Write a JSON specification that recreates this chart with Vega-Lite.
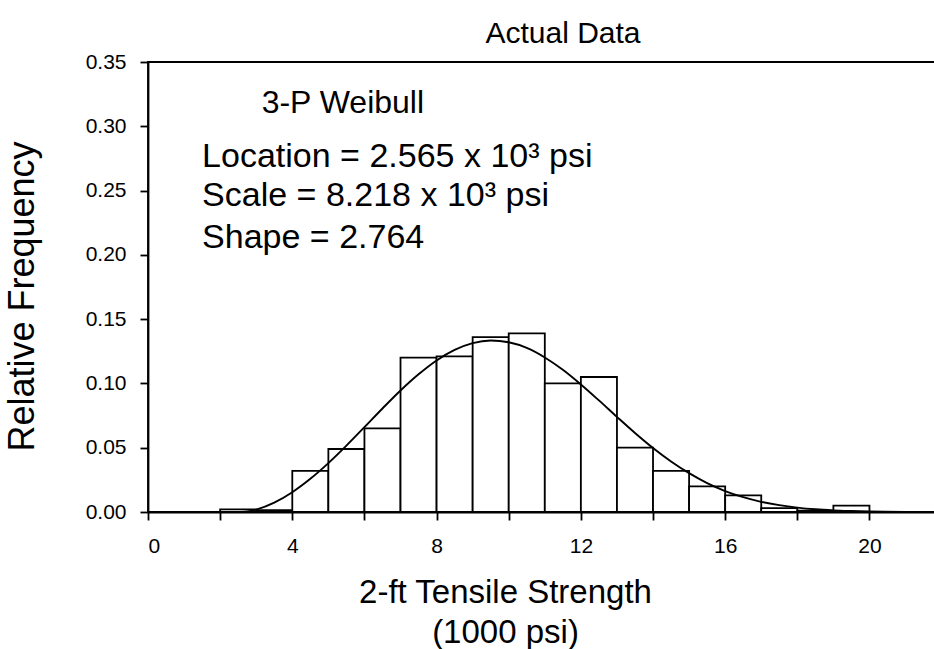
{
  "$schema": "https://vega.github.io/schema/vega-lite/v6.json",
  "width": 790,
  "height": 450,
  "autosize": "none",
  "padding": {"left": 148, "top": 62, "right": 0, "bottom": 137},
  "background": "white",
  "config": {
    "font": "Liberation Sans",
    "view": {"stroke": "black", "strokeWidth": 1.8},
    "axis": {"domainColor": "black", "tickColor": "black", "labelColor": "black", "titleColor": "black", "grid": false, "labelFont": "Liberation Sans", "titleFont": "Liberation Sans", "titleFontWeight": "normal", "domainWidth": 1.8, "tickWidth": 1.8}
  },
  "title": {"text": "Actual Data", "fontSize": 30, "font": "Liberation Sans", "fontWeight": "normal", "color": "black", "dx": 20, "offset": 2},
  "datasets": {
    "bars": [
      {"x0": 2, "x1": 3, "freq": 0.002},
      {"x0": 3, "x1": 4, "freq": 0.0015},
      {"x0": 4, "x1": 5, "freq": 0.032},
      {"x0": 5, "x1": 6, "freq": 0.049},
      {"x0": 6, "x1": 7, "freq": 0.065},
      {"x0": 7, "x1": 8, "freq": 0.12},
      {"x0": 8, "x1": 9, "freq": 0.121},
      {"x0": 9, "x1": 10, "freq": 0.136},
      {"x0": 10, "x1": 11, "freq": 0.139},
      {"x0": 11, "x1": 12, "freq": 0.1},
      {"x0": 12, "x1": 13, "freq": 0.105},
      {"x0": 13, "x1": 14, "freq": 0.05},
      {"x0": 14, "x1": 15, "freq": 0.032},
      {"x0": 15, "x1": 16, "freq": 0.02},
      {"x0": 16, "x1": 17, "freq": 0.013},
      {"x0": 17, "x1": 18, "freq": 0.003},
      {"x0": 18, "x1": 19, "freq": 0.001},
      {"x0": 19, "x1": 20, "freq": 0.005}
    ],
    "curve": [
      {"x": 2.565, "f": 0},
      {"x": 2.8, "f": 0.0006},
      {"x": 3, "f": 0.0019},
      {"x": 3.5, "f": 0.0073},
      {"x": 4, "f": 0.0154},
      {"x": 4.5, "f": 0.0258},
      {"x": 5, "f": 0.038},
      {"x": 5.5, "f": 0.0516},
      {"x": 6, "f": 0.066},
      {"x": 6.5, "f": 0.0805},
      {"x": 7, "f": 0.0945},
      {"x": 7.5, "f": 0.1071},
      {"x": 8, "f": 0.1179},
      {"x": 8.5, "f": 0.1261},
      {"x": 9, "f": 0.1314},
      {"x": 9.5, "f": 0.1334},
      {"x": 10, "f": 0.132},
      {"x": 10.5, "f": 0.1276},
      {"x": 11, "f": 0.1202},
      {"x": 11.5, "f": 0.1106},
      {"x": 12, "f": 0.0992},
      {"x": 12.5, "f": 0.0868},
      {"x": 13, "f": 0.074},
      {"x": 13.5, "f": 0.0615},
      {"x": 14, "f": 0.0498},
      {"x": 14.5, "f": 0.0393},
      {"x": 15, "f": 0.0302},
      {"x": 15.5, "f": 0.0225},
      {"x": 16, "f": 0.0163},
      {"x": 16.5, "f": 0.0115},
      {"x": 17, "f": 0.0079},
      {"x": 17.5, "f": 0.0053},
      {"x": 18, "f": 0.0034},
      {"x": 18.5, "f": 0.0021},
      {"x": 19, "f": 0.0013},
      {"x": 19.5, "f": 0.0008},
      {"x": 20, "f": 0.0004},
      {"x": 21, "f": 0.0001}
    ],
    "notes": [
      {"x": 3.15, "y": 0.318, "label": "3-P Weibull", "size": 32},
      {"x": 1.5, "y": 0.2765, "label": "Location = 2.565 x 10³ psi", "size": 34},
      {"x": 1.5, "y": 0.246, "label": "Scale = 8.218 x 10³ psi", "size": 34},
      {"x": 1.5, "y": 0.213, "label": "Shape = 2.764", "size": 34}
    ]
  },
  "layer": [
    {
      "data": {"name": "bars"},
      "mark": {"type": "rect", "fill": "white", "stroke": "black", "strokeWidth": 1.8},
      "encoding": {
        "x": {"field": "x0", "type": "quantitative", "scale": {"domain": [0, 21.9], "nice": false},
          "axis": {"values": [0, 2, 4, 6, 8, 10, 12, 14, 16, 18, 20], "labelExpr": "datum.value % 4 == 0 ? datum.value : ''", "labelFontSize": 21, "tickSize": 8, "labelPadding": 15, "title": ["2-ft Tensile Strength", "(1000 psi)"], "titleFontSize": 33, "titleLineHeight": 40, "titlePadding": 20, "titleX": 357}},
        "x2": {"field": "x1"},
        "y": {"field": "freq", "type": "quantitative", "scale": {"domain": [0, 0.35], "nice": false},
          "axis": {"values": [0, 0.05, 0.1, 0.15, 0.2, 0.25, 0.3, 0.35], "format": ".2f", "labelFontSize": 21, "tickSize": 8, "labelPadding": 14, "title": "Relative Frequency", "titleFontSize": 36, "titlePadding": 44, "titleY": 234}},
        "y2": {"datum": 0}
      }
    },
    {
      "data": {"name": "curve"},
      "mark": {"type": "line", "color": "black", "strokeWidth": 1.9, "interpolate": "monotone"},
      "encoding": {
        "x": {"field": "x", "type": "quantitative"},
        "y": {"field": "f", "type": "quantitative"}
      }
    },
    {
      "data": {"name": "notes"},
      "mark": {"type": "text", "align": "left", "baseline": "middle", "font": "Liberation Sans", "color": "black"},
      "encoding": {
        "x": {"field": "x", "type": "quantitative"},
        "y": {"field": "y", "type": "quantitative"},
        "text": {"field": "label"},
        "size": {"field": "size", "type": "quantitative", "scale": null}
      }
    }
  ]
}
